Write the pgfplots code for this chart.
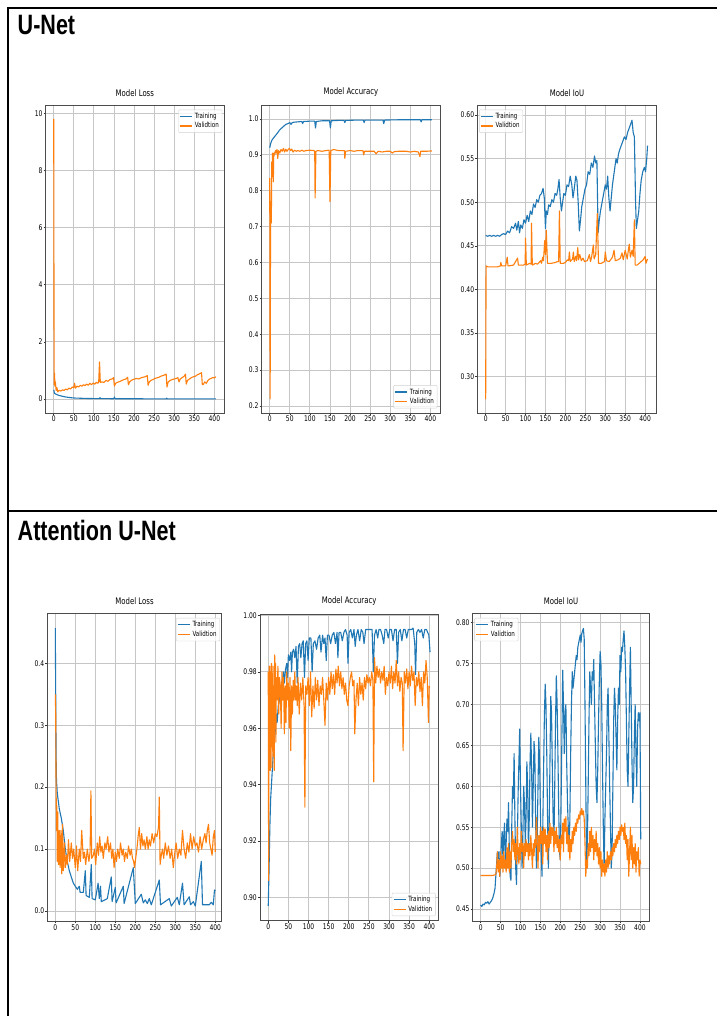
\documentclass[border=0pt]{standalone}
\usepackage{fontspec}
\usepackage{pgfplots}
\pgfplotsset{compat=1.18}
\newfontfamily\plotfont[FakeStretch=0.77]{DejaVu Sans}
\newfontfamily\hfont[FakeStretch=0.77]{Liberation Sans}
\definecolor{tblue}{HTML}{1F77B4}
\definecolor{torange}{HTML}{FF7F0E}
\pgfplotsset{
  mpl/.style={
    scale only axis, height=308pt,
    anchor=south west,
    tick pos=left, tick align=outside, major tick length=2pt,
    tick style={black!80, line width=0.6pt},
    axis line style={black!70, line width=0.8pt},
    grid=major, grid style={gray!45, line width=0.8pt},
    ticklabel style={font=\plotfont\fontsize{7.8}{8.5}\selectfont, inner sep=1pt},
    xtick={0,50,100,150,200,250,300,350,400},
    xticklabels={0,50,100,150,200,250,300,350,400},
    title style={font=\plotfont\fontsize{9}{10}\selectfont, inner sep=0pt, yshift=2.5pt},
    legend cell align=left,
    legend style={font=\plotfont\fontsize{7.2}{8}\selectfont, draw=gray!35, rounded corners=1pt,
       fill=white, fill opacity=0.8, text opacity=1, inner sep=1.2pt, row sep=-1.5pt},
    legend image code/.code={\draw[#1, line width=1.1pt] (0pt,0pt) -- (12pt,0pt);},
    every axis plot/.append style={line width=1.1pt, line join=round},
  },
  lur/.style={legend style={at={(0.99,0.985)}, anchor=north east}},
  llr/.style={legend style={at={(0.985,0.015)}, anchor=south east}},
  lul/.style={legend style={at={(0.01,0.985)}, anchor=north west}},
}
\begin{document}
\begin{tikzpicture}
\useasboundingbox (0pt,0pt) rectangle (717pt,-1016pt);
\fill[white] (0pt,0pt) rectangle (717pt,-1016pt);
\draw[line width=2pt] (7.5pt,-1016pt) -- (7.5pt,-8pt) -- (717pt,-8pt);
\draw[line width=2pt] (7.5pt,-511pt) -- (717pt,-511pt);
\node[anchor=base west, inner sep=0pt] at (17.5pt,-35pt) {\hfont\bfseries\fontsize{28}{30}\selectfont U-Net};
\node[anchor=base west, inner sep=0pt] at (17.5pt,-540.5pt) {\hfont\bfseries\fontsize{28}{30}\selectfont Attention U-Net};

% ---------- U-Net Loss
\begin{axis}[mpl, lur, at={(45.7pt,-413pt)}, width=178.3pt,
  xmin=-20, xmax=424, ymin=-0.49, ymax=10.29,
  ytick={0,2,4,6,8,10}, yticklabels={0,2,4,6,8,10}, title={Model Loss}]
\addplot[tblue] coordinates {(0,0.32)(2,0.2)(5,0.17)(10,0.14)(20,0.1)(30,0.07)(40,0.05)(50,0.035)(60,0.03)(80,0.02)(100,0.015)(114,0.012)(115,0.05)(117,0.012)(150,0.01)(151,0.07)(153,0.01)(200,0.008)(250,0.006)(280,0.006)(281,0.03)(283,0.005)(300,0.005)(350,0.004)(404,0.003)};
\addplot[torange] coordinates {(0,9.8)(1,0.5)(2,0.9)(3,0.45)(4,0.6)(6,0.3)(8,0.4)(10,0.25)(14,0.3)(18,0.28)(22,0.32)(26,0.3)(30,0.35)(34,0.32)(38,0.38)(42,0.35)(46,0.42)(50,0.4)(52,0.55)(54,0.38)(58,0.45)(62,0.42)(66,0.48)(70,0.45)(74,0.5)(78,0.47)(82,0.52)(86,0.48)(90,0.55)(94,0.5)(98,0.56)(102,0.52)(106,0.58)(110,0.55)(112,0.6)(114,1.3)(116,0.58)(120,0.6)(125,0.58)(130,0.65)(135,0.62)(140,0.68)(145,0.7)(149,0.75)(151,0.45)(154,0.55)(158,0.58)(162,0.6)(166,0.62)(170,0.65)(175,0.68)(180,0.7)(184,0.76)(186,0.5)(189,0.6)(193,0.65)(197,0.68)(202,0.7)(207,0.72)(212,0.7)(217,0.74)(222,0.76)(228,0.78)(233,0.82)(235,0.48)(238,0.6)(242,0.65)(247,0.68)(252,0.72)(257,0.74)(262,0.76)(267,0.8)(272,0.82)(277,0.85)(280,0.87)(282,0.42)(285,0.6)(290,0.65)(295,0.68)(300,0.7)(305,0.72)(309,0.75)(312,0.6)(315,0.7)(320,0.75)(325,0.8)(328,0.87)(330,0.52)(333,0.65)(338,0.7)(343,0.75)(348,0.78)(353,0.8)(358,0.85)(363,0.88)(368,0.92)(370,0.5)(373,0.52)(376,0.6)(380,0.55)(384,0.65)(388,0.7)(392,0.72)(396,0.75)(400,0.74)(404,0.78)};
\legend{Training,Validtion}
\end{axis}

% ---------- U-Net Accuracy
\begin{axis}[mpl, llr, at={(261.7pt,-413pt)}, width=178.3pt,
  xmin=-20, xmax=424, ymin=0.1805, ymax=1.039,
  ytick={0.2,0.3,0.4,0.5,0.6,0.7,0.8,0.9,1.0}, yticklabels={0.2,0.3,0.4,0.5,0.6,0.7,0.8,0.9,1.0}, title={Model Accuracy}]
\addplot[tblue] coordinates {(0,0.92)(2,0.93)(5,0.94)(8,0.945)(10,0.948)(15,0.955)(20,0.962)(25,0.97)(30,0.975)(35,0.98)(40,0.985)(45,0.987)(50,0.99)(53,0.985)(56,0.99)(60,0.991)(70,0.992)(80,0.993)(82,0.987)(84,0.993)(100,0.994)(112,0.994)(114,0.975)(116,0.993)(130,0.995)(149,0.995)(151,0.975)(153,0.995)(170,0.996)(185,0.996)(187,0.99)(189,0.996)(220,0.997)(233,0.997)(235,0.99)(237,0.997)(270,0.997)(282,0.997)(284,0.987)(286,0.997)(330,0.998)(375,0.998)(377,0.992)(379,0.998)(404,0.998)};
\addplot[torange] coordinates {(0,0.835)(1,0.22)(2,0.69)(3,0.77)(4,0.71)(5,0.88)(6,0.84)(7,0.905)(8,0.9)(9,0.825)(10,0.905)(12,0.9)(14,0.912)(16,0.905)(18,0.915)(20,0.89)(22,0.912)(25,0.905)(28,0.915)(31,0.91)(34,0.918)(37,0.908)(40,0.916)(43,0.91)(46,0.915)(49,0.918)(52,0.912)(55,0.916)(58,0.908)(62,0.913)(66,0.91)(70,0.912)(75,0.91)(80,0.913)(85,0.91)(90,0.912)(100,0.913)(110,0.912)(112,0.91)(113,0.78)(115,0.91)(120,0.912)(130,0.91)(140,0.912)(148,0.913)(150,0.77)(152,0.912)(160,0.915)(170,0.912)(180,0.912)(186,0.912)(187,0.89)(189,0.91)(200,0.912)(210,0.91)(220,0.912)(232,0.912)(234,0.9)(236,0.91)(250,0.91)(260,0.91)(265,0.903)(270,0.91)(280,0.908)(290,0.91)(300,0.91)(305,0.905)(310,0.909)(320,0.91)(330,0.91)(340,0.91)(350,0.908)(360,0.91)(370,0.908)(374,0.895)(376,0.91)(390,0.91)(404,0.911)};
\legend{Training,Validtion}
\end{axis}

% ---------- U-Net IoU
\begin{axis}[mpl, lul, at={(477.3pt,-413pt)}, width=179.4pt,
  xmin=-21, xmax=429, ymin=0.2584, ymax=0.6115,
  ytick={0.30,0.35,0.40,0.45,0.50,0.55,0.60}, yticklabels={0.30,0.35,0.40,0.45,0.50,0.55,0.60}, title={Model IoU}]
\addplot[tblue] coordinates {(0,0.462)(5,0.461)(10,0.462)(15,0.461)(20,0.462)(25,0.461)(30,0.462)(35,0.461)(40,0.463)(45,0.464)(50,0.463)(55,0.467)(60,0.465)(65,0.472)(70,0.47)(75,0.476)(78,0.468)(82,0.478)(85,0.465)(88,0.474)(92,0.47)(96,0.48)(100,0.476)(104,0.485)(108,0.478)(112,0.49)(116,0.486)(120,0.498)(124,0.494)(128,0.503)(132,0.5)(136,0.508)(140,0.51)(144,0.516)(147,0.505)(150,0.47)(152,0.49)(155,0.486)(158,0.497)(162,0.495)(166,0.503)(170,0.5)(174,0.51)(178,0.508)(181,0.515)(184,0.526)(187,0.505)(190,0.49)(193,0.5)(196,0.51)(200,0.508)(204,0.52)(208,0.518)(212,0.53)(216,0.52)(219,0.505)(222,0.515)(226,0.53)(229,0.525)(232,0.5)(235,0.467)(238,0.48)(241,0.495)(245,0.505)(249,0.515)(253,0.52)(257,0.535)(261,0.532)(265,0.545)(269,0.54)(273,0.553)(276,0.545)(279,0.548)(282,0.465)(285,0.48)(288,0.49)(292,0.5)(296,0.51)(300,0.52)(303,0.515)(306,0.53)(309,0.505)(312,0.49)(315,0.505)(318,0.52)(321,0.53)(324,0.54)(327,0.55)(330,0.545)(333,0.555)(336,0.56)(340,0.565)(344,0.57)(348,0.575)(352,0.572)(356,0.58)(360,0.585)(364,0.59)(367,0.594)(370,0.58)(373,0.575)(376,0.5)(378,0.47)(381,0.48)(384,0.49)(387,0.51)(390,0.525)(394,0.535)(398,0.54)(401,0.535)(404,0.55)(406,0.565)};
\addplot[torange] coordinates {(0,0.274)(1,0.427)(5,0.426)(10,0.426)(20,0.426)(30,0.426)(37,0.427)(38,0.431)(40,0.427)(50,0.427)(54,0.437)(56,0.427)(70,0.428)(80,0.436)(82,0.428)(95,0.428)(99,0.429)(100,0.459)(102,0.428)(110,0.43)(114,0.429)(115,0.476)(117,0.428)(125,0.43)(130,0.429)(138,0.433)(140,0.43)(143,0.437)(145,0.433)(148,0.456)(150,0.44)(152,0.468)(155,0.43)(165,0.43)(175,0.431)(180,0.432)(183,0.432)(185,0.49)(187,0.43)(195,0.43)(200,0.431)(205,0.434)(208,0.433)(210,0.443)(212,0.432)(218,0.435)(220,0.443)(222,0.432)(226,0.438)(228,0.433)(231,0.448)(233,0.434)(236,0.44)(240,0.433)(244,0.436)(248,0.432)(255,0.433)(260,0.44)(263,0.432)(266,0.438)(270,0.451)(272,0.435)(276,0.44)(280,0.487)(283,0.43)(290,0.43)(298,0.432)(300,0.443)(303,0.433)(310,0.432)(318,0.437)(322,0.445)(325,0.433)(332,0.434)(338,0.436)(342,0.442)(345,0.434)(350,0.445)(355,0.435)(360,0.452)(363,0.437)(367,0.445)(370,0.438)(373,0.48)(375,0.428)(380,0.428)(385,0.43)(390,0.432)(395,0.434)(400,0.438)(402,0.43)(406,0.435)};
\legend{Training,Validtion}
\end{axis}

% ---------- Attention Loss
\begin{axis}[mpl, lur, at={(47.3pt,-921pt)}, width=174.4pt, height=307.7pt,
  xmin=-20, xmax=416, ymin=-0.0162, ymax=0.4808,
  ytick={0,0.1,0.2,0.3,0.4}, yticklabels={0.0,0.1,0.2,0.3,0.4}, title={Model Loss}]
\addplot[tblue] coordinates {(0,0.457)(1,0.35)(2,0.25)(3,0.21)(5,0.19)(10,0.165)(15,0.15)(20,0.13)(25,0.1)(30,0.08)(35,0.065)(40,0.055)(45,0.045)(50,0.04)(55,0.035)(60,0.04)(62,0.03)(70,0.03)(75,0.065)(77,0.025)(85,0.022)(90,0.075)(92,0.02)(100,0.018)(107,0.045)(110,0.02)(113,0.04)(115,0.015)(130,0.02)(140,0.055)(142,0.015)(150,0.038)(152,0.013)(170,0.04)(172,0.012)(195,0.07)(200,0.012)(215,0.027)(220,0.013)(225,0.018)(230,0.012)(235,0.02)(240,0.01)(260,0.05)(263,0.01)(285,0.02)(290,0.008)(305,0.022)(310,0.01)(318,0.045)(322,0.01)(335,0.023)(338,0.01)(345,0.015)(350,0.008)(365,0.08)(368,0.01)(385,0.01)(390,0.014)(395,0.01)(398,0.034)(400,0.032)};
\addplot[torange] coordinates {(0,0.35)(1,0.32)(2,0.2)(3,0.13)(4,0.17)(5,0.08)(6,0.16)(7,0.1)(8,0.075)(10,0.13)(12,0.07)(14,0.13)(16,0.06)(18,0.14)(20,0.065)(23,0.11)(25,0.07)(28,0.09)(30,0.075)(33,0.115)(36,0.08)(40,0.11)(43,0.085)(46,0.1)(50,0.07)(53,0.105)(56,0.065)(60,0.1)(63,0.08)(66,0.13)(70,0.085)(73,0.095)(76,0.075)(80,0.1)(84,0.08)(87,0.095)(89,0.194)(91,0.085)(95,0.09)(98,0.1)(101,0.075)(105,0.11)(108,0.09)(111,0.12)(114,0.095)(117,0.105)(120,0.085)(124,0.11)(127,0.1)(131,0.12)(134,0.095)(138,0.11)(141,0.085)(144,0.1)(147,0.07)(150,0.095)(153,0.08)(156,0.1)(160,0.085)(163,0.11)(167,0.09)(170,0.1)(173,0.08)(176,0.095)(180,0.085)(183,0.105)(187,0.09)(190,0.1)(193,0.085)(196,0.08)(198,0.07)(201,0.085)(204,0.1)(207,0.12)(210,0.135)(213,0.1)(216,0.125)(219,0.105)(222,0.115)(225,0.1)(229,0.12)(232,0.1)(235,0.115)(238,0.105)(242,0.125)(246,0.11)(250,0.125)(254,0.12)(258,0.135)(260,0.184)(262,0.075)(265,0.09)(268,0.1)(271,0.085)(275,0.11)(279,0.09)(283,0.105)(287,0.085)(291,0.1)(295,0.07)(298,0.09)(302,0.11)(306,0.085)(310,0.1)(314,0.09)(318,0.13)(322,0.1)(326,0.085)(330,0.11)(334,0.095)(338,0.125)(342,0.1)(346,0.12)(350,0.105)(354,0.11)(358,0.095)(362,0.12)(366,0.1)(370,0.115)(374,0.125)(377,0.11)(380,0.13)(383,0.14)(386,0.11)(389,0.1)(392,0.09)(395,0.12)(398,0.13)(400,0.095)};
\legend{Training,Validtion}
\end{axis}

% ---------- Attention Accuracy
\begin{axis}[mpl, llr, at={(260pt,-920.7pt)}, width=178.3pt, height=306.4pt,
  xmin=-20.5, xmax=422.5, ymin=0.8917, ymax=1.0004,
  ytick={0.90,0.92,0.94,0.96,0.98,1.00}, yticklabels={0.90,0.92,0.94,0.96,0.98,1.00}, title={Model Accuracy}]
\addplot[tblue] coordinates {(0,0.897)(2,0.91)(4,0.925)(6,0.935)(8,0.94)(10,0.945)(12,0.95)(15,0.955)(18,0.96)(20,0.965)(22,0.962)(25,0.968)(28,0.97)(30,0.975)(33,0.972)(35,0.977)(38,0.98)(40,0.976)(43,0.981)(46,0.983)(48,0.978)(50,0.986)(53,0.984)(56,0.987)(58,0.98)(60,0.987)(63,0.988)(66,0.985)(69,0.989)(72,0.976)(75,0.989)(78,0.99)(81,0.985)(84,0.99)(87,0.991)(90,0.978)(93,0.99)(96,0.991)(99,0.984)(102,0.992)(106,0.992)(109,0.98)(112,0.99)(116,0.991)(120,0.988)(124,0.992)(128,0.993)(131,0.987)(135,0.993)(138,0.99)(141,0.992)(144,0.984)(147,0.993)(151,0.993)(155,0.99)(159,0.993)(163,0.994)(167,0.99)(171,0.994)(173,0.985)(176,0.994)(180,0.994)(184,0.991)(188,0.994)(192,0.995)(196,0.993)(198,0.983)(201,0.994)(205,0.995)(209,0.992)(213,0.995)(216,0.989)(219,0.993)(223,0.995)(227,0.991)(231,0.995)(235,0.994)(238,0.99)(242,0.995)(246,0.995)(250,0.995)(254,0.995)(258,0.995)(261,0.98)(264,0.993)(268,0.995)(272,0.992)(275,0.995)(279,0.995)(283,0.993)(287,0.99)(290,0.995)(294,0.995)(298,0.992)(302,0.995)(306,0.995)(310,0.991)(314,0.995)(318,0.995)(321,0.983)(324,0.994)(328,0.995)(332,0.991)(336,0.995)(340,0.995)(344,0.992)(348,0.995)(352,0.995)(356,0.995)(360,0.9955)(364,0.99)(366,0.979)(369,0.994)(373,0.995)(377,0.994)(381,0.995)(385,0.992)(389,0.995)(393,0.995)(396,0.994)(399,0.993)(402,0.987)};
\addplot[torange] coordinates {(0,0.98)(1,0.906)(2,0.982)(3,0.95)(4,0.982)(5,0.945)(6,0.98)(7,0.96)(8,0.983)(9,0.946)(10,0.978)(11,0.955)(12,0.982)(13,0.95)(14,0.975)(15,0.945)(16,0.986)(17,0.96)(18,0.983)(19,0.955)(20,0.978)(22,0.97)(24,0.982)(26,0.965)(28,0.978)(30,0.975)(32,0.96)(34,0.98)(36,0.97)(38,0.978)(40,0.958)(42,0.975)(44,0.962)(46,0.98)(48,0.97)(50,0.976)(52,0.96)(54,0.978)(56,0.952)(58,0.975)(60,0.965)(62,0.977)(64,0.97)(66,0.98)(68,0.97)(70,0.975)(72,0.968)(74,0.978)(77,0.965)(80,0.976)(83,0.97)(86,0.978)(89,0.968)(91,0.932)(93,0.975)(96,0.972)(99,0.978)(102,0.968)(105,0.98)(108,0.964)(111,0.975)(114,0.967)(117,0.978)(120,0.97)(123,0.977)(126,0.968)(129,0.975)(132,0.972)(135,0.978)(138,0.97)(141,0.961)(144,0.976)(147,0.97)(150,0.978)(153,0.972)(156,0.98)(159,0.974)(162,0.979)(165,0.972)(168,0.981)(171,0.976)(174,0.982)(177,0.975)(180,0.98)(183,0.974)(186,0.978)(189,0.972)(192,0.976)(195,0.97)(198,0.968)(201,0.975)(204,0.978)(207,0.98)(210,0.975)(213,0.977)(215,0.958)(218,0.97)(221,0.976)(224,0.968)(227,0.978)(230,0.972)(233,0.976)(236,0.97)(239,0.978)(242,0.974)(245,0.979)(248,0.976)(251,0.978)(254,0.975)(257,0.98)(260,0.977)(262,0.941)(264,0.985)(267,0.976)(270,0.982)(273,0.978)(276,0.981)(279,0.976)(282,0.98)(285,0.977)(288,0.982)(291,0.972)(294,0.978)(297,0.975)(300,0.98)(303,0.976)(306,0.982)(309,0.974)(312,0.98)(315,0.976)(318,0.984)(321,0.975)(324,0.98)(327,0.973)(330,0.978)(333,0.976)(335,0.952)(338,0.98)(341,0.976)(344,0.981)(347,0.974)(350,0.98)(353,0.975)(356,0.982)(359,0.977)(362,0.98)(365,0.968)(368,0.978)(371,0.975)(374,0.98)(377,0.973)(380,0.978)(383,0.968)(386,0.98)(389,0.976)(392,0.984)(395,0.978)(398,0.962)(400,0.975)};
\legend{Training,Validtion}
\end{axis}

% ---------- Attention IoU
\begin{axis}[mpl, lul, at={(472.7pt,-921pt)}, width=176.6pt, height=307.7pt,
  xmin=-20, xmax=423.5, ymin=0.4353, ymax=0.8115,
  ytick={0.45,0.50,0.55,0.60,0.65,0.70,0.75,0.80}, yticklabels={0.45,0.50,0.55,0.60,0.65,0.70,0.75,0.80}, title={Model IoU}]
\addplot[tblue] coordinates {(0,0.455)(3,0.453)(6,0.456)(9,0.455)(12,0.458)(15,0.457)(18,0.459)(21,0.456)(24,0.458)(27,0.46)(30,0.463)(33,0.468)(36,0.475)(38,0.49)(40,0.505)(42,0.52)(44,0.512)(46,0.52)(48,0.49)(50,0.505)(52,0.53)(54,0.545)(56,0.51)(58,0.54)(60,0.555)(62,0.5)(64,0.53)(66,0.56)(68,0.545)(70,0.58)(72,0.52)(74,0.49)(76,0.485)(78,0.55)(80,0.6)(82,0.585)(84,0.64)(86,0.56)(88,0.5)(90,0.48)(92,0.53)(94,0.59)(96,0.63)(98,0.67)(100,0.6)(102,0.55)(104,0.5)(106,0.54)(108,0.6)(110,0.58)(112,0.53)(114,0.56)(116,0.63)(118,0.6)(120,0.52)(122,0.56)(124,0.63)(126,0.665)(128,0.62)(130,0.55)(132,0.6)(134,0.655)(136,0.64)(138,0.56)(140,0.5)(142,0.54)(144,0.6)(146,0.66)(148,0.63)(150,0.57)(152,0.52)(154,0.49)(156,0.55)(158,0.62)(160,0.685)(162,0.725)(164,0.7)(166,0.64)(168,0.56)(170,0.5)(172,0.55)(174,0.63)(176,0.71)(178,0.69)(180,0.62)(182,0.56)(184,0.53)(186,0.6)(188,0.68)(190,0.735)(192,0.7)(194,0.64)(196,0.57)(198,0.52)(200,0.51)(202,0.58)(204,0.66)(206,0.742)(208,0.7)(210,0.64)(212,0.69)(214,0.7)(216,0.63)(218,0.58)(220,0.55)(222,0.52)(224,0.56)(226,0.64)(228,0.7)(230,0.74)(232,0.72)(234,0.73)(236,0.74)(238,0.75)(240,0.76)(242,0.755)(244,0.77)(246,0.775)(248,0.78)(250,0.785)(252,0.776)(254,0.787)(256,0.79)(258,0.793)(260,0.78)(262,0.7)(264,0.6)(266,0.5)(268,0.53)(270,0.6)(272,0.68)(274,0.74)(276,0.72)(278,0.7)(280,0.74)(282,0.73)(284,0.755)(286,0.7)(288,0.65)(290,0.6)(292,0.58)(294,0.62)(296,0.68)(298,0.73)(300,0.765)(302,0.75)(304,0.7)(306,0.62)(308,0.55)(310,0.5)(312,0.56)(314,0.6)(316,0.64)(318,0.7)(320,0.72)(322,0.66)(324,0.6)(326,0.55)(328,0.5)(330,0.52)(332,0.6)(334,0.68)(336,0.72)(338,0.7)(340,0.66)(342,0.62)(344,0.68)(346,0.72)(348,0.7)(350,0.76)(352,0.74)(354,0.77)(356,0.765)(358,0.78)(360,0.79)(362,0.77)(364,0.74)(366,0.68)(368,0.62)(370,0.6)(372,0.66)(374,0.72)(376,0.77)(378,0.7)(380,0.63)(382,0.58)(384,0.6)(386,0.66)(388,0.7)(390,0.64)(392,0.6)(394,0.67)(396,0.69)(398,0.68)(400,0.69)(402,0.535)};
\addplot[torange] coordinates {(0,0.491)(10,0.491)(20,0.491)(30,0.491)(38,0.492)(40,0.5)(42,0.52)(44,0.495)(46,0.51)(48,0.49)(50,0.52)(52,0.5)(54,0.515)(56,0.495)(58,0.52)(60,0.5)(62,0.51)(64,0.495)(66,0.525)(68,0.5)(70,0.53)(72,0.495)(74,0.52)(76,0.5)(78,0.53)(80,0.545)(82,0.52)(84,0.535)(86,0.51)(88,0.53)(90,0.505)(92,0.55)(94,0.52)(96,0.505)(98,0.53)(100,0.51)(102,0.545)(104,0.52)(106,0.53)(108,0.5)(110,0.53)(112,0.515)(114,0.535)(116,0.52)(118,0.53)(120,0.51)(122,0.53)(124,0.515)(126,0.54)(128,0.52)(130,0.5)(132,0.53)(134,0.515)(136,0.535)(138,0.525)(140,0.562)(142,0.53)(144,0.5)(146,0.54)(148,0.52)(150,0.55)(152,0.53)(154,0.545)(156,0.505)(158,0.55)(160,0.53)(162,0.548)(164,0.52)(166,0.54)(168,0.51)(170,0.545)(172,0.525)(174,0.555)(176,0.53)(178,0.55)(180,0.54)(182,0.55)(184,0.52)(186,0.545)(188,0.53)(190,0.55)(192,0.525)(194,0.54)(196,0.52)(198,0.535)(200,0.51)(202,0.54)(204,0.53)(206,0.555)(208,0.52)(210,0.56)(212,0.545)(214,0.563)(216,0.53)(218,0.55)(220,0.52)(222,0.54)(224,0.51)(226,0.535)(228,0.52)(230,0.545)(232,0.53)(234,0.55)(236,0.54)(238,0.555)(240,0.545)(242,0.56)(244,0.555)(246,0.565)(248,0.56)(250,0.57)(252,0.565)(254,0.573)(256,0.565)(258,0.57)(260,0.56)(262,0.53)(264,0.49)(266,0.51)(268,0.5)(270,0.53)(272,0.515)(274,0.545)(276,0.52)(278,0.55)(280,0.525)(282,0.54)(284,0.51)(286,0.535)(288,0.52)(290,0.545)(292,0.515)(294,0.53)(296,0.505)(298,0.525)(300,0.5)(302,0.52)(304,0.49)(306,0.51)(308,0.495)(310,0.505)(312,0.49)(314,0.51)(316,0.495)(318,0.52)(320,0.5)(322,0.515)(324,0.505)(326,0.52)(328,0.51)(330,0.525)(332,0.515)(334,0.53)(336,0.52)(338,0.535)(340,0.525)(342,0.54)(344,0.53)(346,0.545)(348,0.535)(350,0.55)(352,0.54)(354,0.553)(356,0.545)(358,0.55)(360,0.535)(362,0.555)(364,0.53)(366,0.54)(368,0.51)(370,0.535)(372,0.49)(374,0.52)(376,0.55)(378,0.51)(380,0.54)(382,0.5)(384,0.525)(386,0.505)(388,0.53)(390,0.495)(392,0.52)(394,0.51)(396,0.525)(398,0.49)(400,0.51)(402,0.505)};
\legend{Training,Validtion}
\end{axis}
\end{tikzpicture}
\end{document}
